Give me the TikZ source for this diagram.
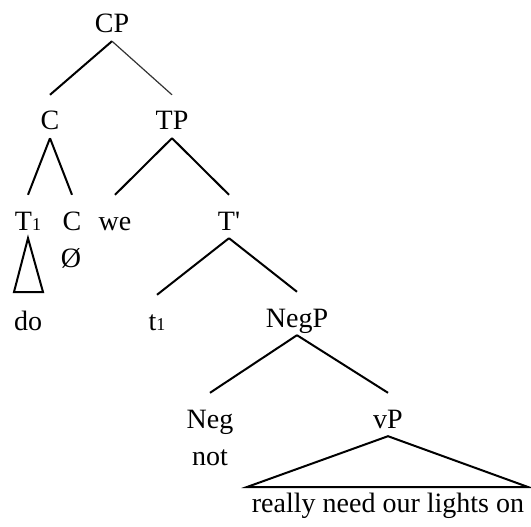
\documentclass[tikz,border=0pt]{standalone}
\usepackage{fontspec}
\setmainfont{Liberation Serif}
\newfontfamily\nomapfont{Liberation Serif}[Ligatures=TeXOff]
\begin{document}
\begin{tikzpicture}[x=1pt,y=-1pt,
  lbl/.style={anchor=base,inner sep=0pt,text height=35pt,text depth=8pt,font=\fontsize{28}{28}\selectfont},
  plain/.style={anchor=base,inner sep=0pt,font=\fontsize{28}{28}\selectfont},
  br/.style={line width=2pt,line join=miter},
  thinbr/.style={line width=1.2pt,draw=black!80}]
\useasboundingbox (0,0) rectangle (531,527);
\newcommand{\subone}{{\fontsize{18}{18}\selectfont 1}}
% nodes
\node[lbl] (CP) at (112,33) {CP};
\node[lbl] (C) at (50,130) {C};
\node[lbl] (TP) at (172,130) {TP};
\node[lbl] (T1) at (28,230) {T\subone};
\node[lbl] (C2) at (72,230) {C};
\node[plain] (null) at (71,267) {Ø};
\node[lbl] (we) at (115,230) {we};
\node[lbl] (Tb) at (229,230) {T{\nomapfont '}};
\node[lbl] (do) at (28,330) {do};
\node[lbl] (t1) at (157,330) {t\subone};
\node[lbl] (NegP) at (297,327) {NegP};
\node[lbl] (Neg) at (210,428) {Neg};
\node[plain] (not) at (210,465) {not};
\node[lbl] (vP) at (388,428) {vP};
\node[plain] (vPtext) at (388,512) {really need our lights on};
% triangle coordinates
\coordinate (doL) at (14,292);
\coordinate (doR) at (43,292);
\coordinate (vPL) at (247,487);
\coordinate (vPR) at (528,487);
% branches
\draw[br] (CP.south) -- (C.north);
\draw[thinbr] (CP.south) -- (TP.north);
\draw[br] (C.south) -- (T1.north);
\draw[br] (C.south) -- (C2.north);
\draw[br] (TP.south) -- (we.north);
\draw[br] (TP.south) -- (Tb.north);
\draw[br] (Tb.south) -- (t1.north);
\draw[br] (Tb.south) -- (NegP.north);
\draw[br] (NegP.south) -- (Neg.north);
\draw[br] (NegP.south) -- (vP.north);
\draw[br] (T1.south) -- (doR) -- (doL) -- cycle;
\draw[br] (vP.south) -- (vPR) -- (vPL) -- cycle;
\end{tikzpicture}
\end{document}
